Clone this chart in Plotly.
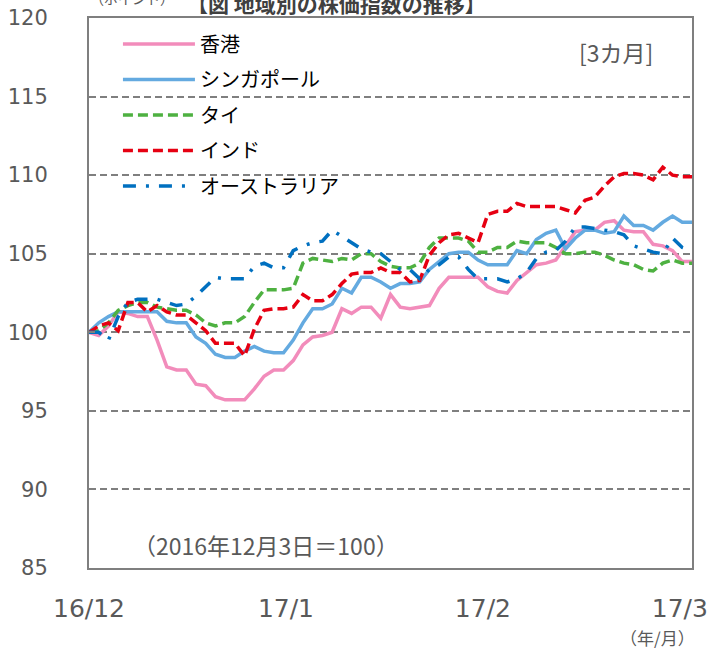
import plotly.graph_objects as go

# ---- data (index = trading-day position, Dec-2016 .. early Mar-2017) ----
idx = list(range(63))
tick_pos = [0, 20.25, 40.5, 60.75]
tick_text = ["16/12", "17/1", "17/2", "17/3"]
y_ticks = [85, 90, 95, 100, 105, 110, 115, 120]

names = ["香港", "シンガポール", "タイ", "インド", "オーストラリア"]

hk = [100.0, 99.8, 100.4, 101.3, 101.2, 101.0, 101.0, 99.5, 97.8, 97.6,
      97.6, 96.7, 96.6, 95.9, 95.7, 95.7, 95.7, 96.4, 97.2, 97.6,
      97.6, 98.2, 99.2, 99.7, 99.8, 100.0, 101.5, 101.2, 101.6, 101.6,
      100.9, 102.4, 101.6, 101.5, 101.6, 101.7, 102.8, 103.5, 103.5, 103.5,
      103.5, 102.9, 102.6, 102.5, 103.3, 103.8, 104.3, 104.4, 104.6, 105.5,
      106.4, 106.5, 106.5, 107.0, 107.1, 106.5, 106.4, 106.4, 105.6, 105.5,
      105.2, 104.5, 104.5]

sg = [100.0, 100.6, 101.0, 101.3, 101.3, 101.3, 101.3, 101.3, 100.7, 100.6,
      100.6, 99.7, 99.3, 98.6, 98.4, 98.4, 98.8, 99.1, 98.8, 98.7,
      98.7, 99.5, 100.6, 101.5, 101.5, 101.8, 102.8, 102.5, 103.5, 103.5,
      103.2, 102.8, 103.1, 103.1, 103.2, 104.0, 104.5, 105.0, 105.1, 105.1,
      104.6, 104.3, 104.3, 104.3, 105.2, 105.0, 105.9, 106.3, 106.5, 105.3,
      106.0, 106.5, 106.5, 106.3, 106.4, 107.4, 106.8, 106.8, 106.5, 107.0,
      107.4, 107.0, 107.0]

th = [100.0, 100.1, 100.6, 101.4, 101.7, 101.9, 101.9, 101.6, 101.5, 101.4,
      101.4, 101.1, 100.6, 100.4, 100.6, 100.6, 101.0, 101.9, 102.7, 102.7,
      102.7, 102.8, 104.4, 104.7, 104.6, 104.5, 104.7, 104.6, 105.0, 105.0,
      104.5, 104.2, 104.1, 104.1, 104.4, 105.4, 106.0, 106.0, 106.0, 105.8,
      105.1, 105.1, 105.4, 105.4, 105.8, 105.7, 105.7, 105.7, 105.4, 105.0,
      105.0, 105.1, 105.1, 104.9, 104.6, 104.4, 104.3, 104.0, 103.9, 104.4,
      104.6, 104.4, 104.4]

ind = [100.0, 100.4, 100.6, 100.1, 101.9, 101.9, 101.3, 101.7, 101.3, 101.1,
       101.1, 100.6, 100.1, 99.3, 99.3, 99.3, 98.5, 100.2, 101.4, 101.5,
       101.5, 101.6, 102.4, 102.0, 102.0, 102.4, 103.1, 103.7, 103.8, 103.8,
       104.1, 103.8, 103.8, 103.2, 103.3, 104.9, 105.7, 106.2, 106.3, 106.0,
       105.7, 107.5, 107.7, 107.7, 108.2, 108.0, 108.0, 108.0, 108.0, 107.8,
       107.6, 108.4, 108.6, 109.3, 109.9, 110.1, 110.1, 110.0, 109.7, 110.5,
       110.0, 109.9, 109.9]

au = [100.0, 100.0, 99.5, 101.0, 101.9, 102.1, 102.1, 102.1, 101.9, 101.7,
      101.8, 102.3, 102.9, 103.5, 103.4, 103.4, 103.4, 104.2, 104.4, 104.1,
      104.1, 105.2, 105.5, 105.7, 105.8, 106.5, 106.1, 105.7, 105.3, 105.1,
      105.0, 104.5, 104.0, 104.0, 103.4, 104.0, 104.3, 104.8, 104.8, 104.0,
      103.4, 103.4, 103.4, 103.2, 103.4, 103.8, 104.7, 105.1, 105.2, 105.8,
      106.7, 106.7, 106.6, 106.5, 106.4, 106.2, 105.5, 105.3, 105.1, 105.0,
      106.0, 105.4, 105.2]

series = [hk, sg, th, ind, au]
colors = ["#F28CBB", "#64AAE0", "#4EB141", "#E60012", "#0070C0"]
dashes = ["solid", "solid", "10px,5px", "10px,5px", "13px,10px,3px,10px"]

GRAY = "#7F7F7F"
TXT = "#595959"
JP = "Noto Sans CJK JP"

fig = go.Figure()
for n, s, c, d in zip(names, series, colors, dashes):
    fig.add_trace(go.Scatter(
        x=idx, y=s, name=n, mode="lines",
        line=dict(color=c, width=3.5, dash=d),
        legendgroup=n,
    ))

fig.update_layout(
    width=707, height=655,
    margin=dict(l=89, r=15, t=18, b=87, autoexpand=False),
    paper_bgcolor="white", plot_bgcolor="white",
    font=dict(family=JP, size=18, color="#000000"),
    showlegend=True,
    legend=dict(
        x=0.048, y=0.988, xanchor="left", yanchor="top",
        bgcolor="rgba(0,0,0,0)", borderwidth=0,
        font=dict(family=JP, size=20, color="#000000"),
        tracegroupgap=6.5, itemwidth=72,
    ),
)

fig.update_xaxes(
    range=[0, 62], tickmode="array", tickvals=tick_pos, ticktext=tick_text,
    showgrid=False, zeroline=False, automargin=False,
    showline=True, linecolor=GRAY, linewidth=2, mirror=True,
    ticks="", tickfont=dict(family="DejaVu Sans", size=25, color=TXT),
    ticklabelstandoff=17, ticklabeloverflow="allow",
)
fig.update_yaxes(
    range=[85, 120], tickmode="array", tickvals=y_ticks,
    showgrid=True, gridcolor=GRAY, gridwidth=1.5, griddash="7px,4px",
    zeroline=False, automargin=False,
    showline=True, linecolor=GRAY, linewidth=2, mirror=True,
    ticks="inside", ticklen=6, tickcolor=GRAY, tickwidth=1.5,
    tickfont=dict(family="DejaVu Sans", size=21, color=TXT),
    ticklabelstandoff=35, ticklabeloverflow="allow",
)

# white panel behind the legend hiding the gridlines there
fig.add_shape(type="rect", xref="paper", yref="paper",
              x0=0.005, x1=0.411, y0=0.66, y1=0.996,
              fillcolor="white", line=dict(width=0), layer="between")

fig.add_annotation(text="[3カ月]", xref="paper", yref="paper",
                   x=0.874, y=0.938, showarrow=False,
                   xanchor="center", yanchor="middle",
                   font=dict(family=JP, size=23, color=TXT))
fig.add_annotation(text="（2016年12月3日＝100）", xref="paper", yref="paper",
                   x=0.07, y=0.042, xanchor="left", yanchor="middle",
                   showarrow=False,
                   font=dict(family=JP, size=23, color=TXT))
fig.add_annotation(text="（年/月）", xref="paper", yref="paper",
                   x=0.942, y=-0.127, xanchor="center", yanchor="middle",
                   showarrow=False,
                   font=dict(family=JP, size=17, color=TXT))
fig.add_annotation(text="（ポイント）", xref="paper", yref="paper",
                   x=-0.002, y=1.036, xanchor="left", yanchor="middle",
                   showarrow=False,
                   font=dict(family=JP, size=14, color=TXT))
fig.add_annotation(text="<b>【図 地域別の株価指数の推移】</b>", xref="paper", yref="paper",
                   x=0.159, y=1.027, xanchor="left", yanchor="middle",
                   showarrow=False,
                   font=dict(family=JP, size=21, color="#404040"))

fig.write_html("out.html", config={"displayModeBar": False},
               post_script="document.body.style.margin='0';")
